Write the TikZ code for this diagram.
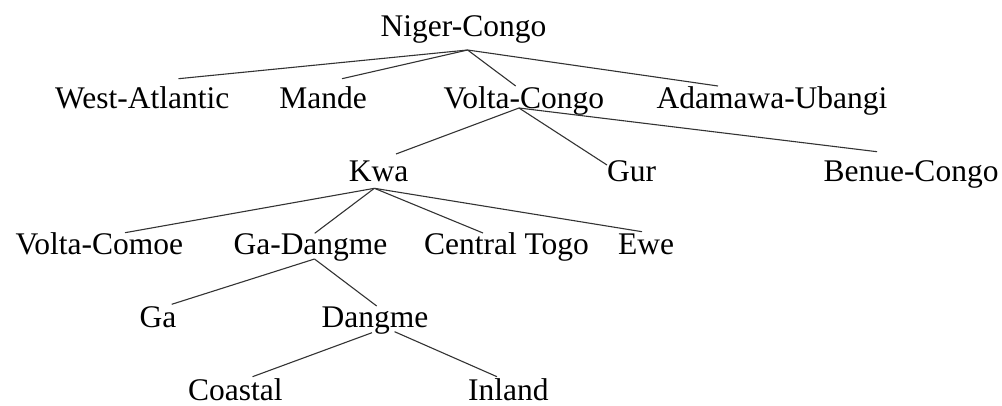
\documentclass[tikz,border=0pt]{standalone}
\usepackage{fontspec}
\setmainfont{Liberation Serif}
\begin{document}
\begin{tikzpicture}[x=1pt,y=-1pt,
  lbl/.style={anchor=base,inner sep=0pt,font=\fontsize{31.5}{36}\selectfont},
  edge/.style={draw=black!80,line width=1.1pt}]
\useasboundingbox (0,0) rectangle (1002,405);
% nodes
\node[lbl] (NC) at (463.5,36) {Niger-Congo};
\node[lbl] (WA) at (142.3,108) {West-Atlantic};
\node[lbl] (MA) at (323,108) {Mande};
\node[lbl] (VC) at (523.8,108) {Volta-Congo};
\node[lbl] (AU) at (772,108) {Adamawa-Ubangi};
\node[lbl] (KW) at (378.5,181.7) {Kwa};
\node[lbl] (GU) at (631.5,181.7) {Gur};
\node[lbl] (BC) at (911,181.7) {Benue-Congo};
\node[lbl] (VCo) at (99.4,254) {Volta-Comoe};
\node[lbl] (GD) at (310.5,254) {Ga-Dangme};
\node[lbl] (CT) at (506.5,254) {Central Togo};
\node[lbl] (EW) at (646,254) {Ewe};
\node[lbl] (GA) at (158,327.7) {Ga};
\node[lbl] (DA) at (375,327.7) {Dangme};
\node[lbl] (CO) at (235.3,400) {Coastal};
\node[lbl] (IN) at (508.3,400) {Inland};
% connector ends
\coordinate (NCb) at (467.6,50);
\coordinate (WAt) at (178.5,78.7);
\coordinate (MAt) at (342,78.7);
\coordinate (VCt) at (515.7,86);
\coordinate (AUt) at (718,86);
\coordinate (VCb) at (519,108);
\coordinate (KWt) at (396,154);
\coordinate (GUt) at (607,165);
\coordinate (BCt) at (877,151.7);
\coordinate (KWb) at (374.4,188.3);
\coordinate (VCot) at (125,232.7);
\coordinate (GDt) at (314.7,233.3);
\coordinate (CTt) at (483,233);
\coordinate (EWt) at (642,231.7);
\coordinate (GDb) at (314.5,259);
\coordinate (GAt) at (171.7,304.3);
\coordinate (DAt) at (376.7,306);
\coordinate (DAbl) at (372,332.7);
\coordinate (DAbr) at (394.6,331.7);
\coordinate (COt) at (252.5,376.7);
\coordinate (INt) at (497,376.7);
% connectors
\draw[edge] (NCb) -- (WAt);
\draw[edge] (NCb) -- (MAt);
\draw[edge] (NCb) -- (VCt);
\draw[edge] (NCb) -- (AUt);
\draw[edge] (VCb) -- (KWt);
\draw[edge] (VCb) -- (GUt);
\draw[edge] (VCb) -- (BCt);
\draw[edge] (KWb) -- (VCot);
\draw[edge] (KWb) -- (GDt);
\draw[edge] (KWb) -- (CTt);
\draw[edge] (KWb) -- (EWt);
\draw[edge] (GDb) -- (GAt);
\draw[edge] (GDb) -- (DAt);
\draw[edge] (DAbl) -- (COt);
\draw[edge] (DAbr) -- (INt);
\end{tikzpicture}
\end{document}
